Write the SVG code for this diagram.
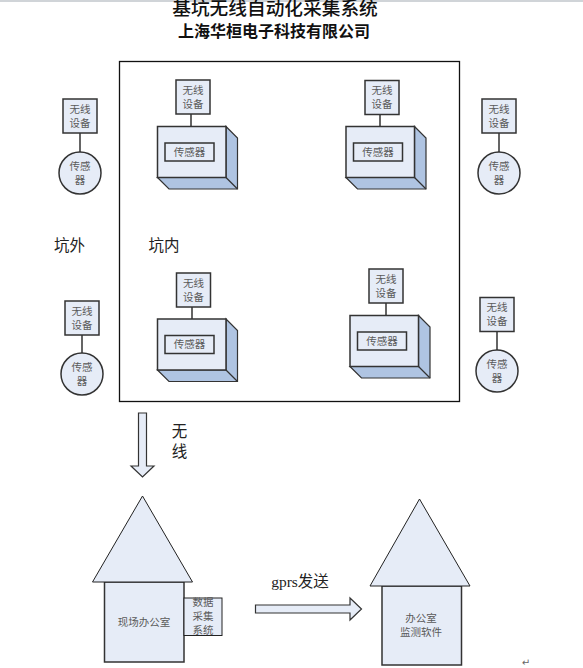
<svg xmlns="http://www.w3.org/2000/svg" width="583" height="668" viewBox="0 0 583 668">
<style>
text{font-family:"Noto Sans CJK SC","Liberation Sans",sans-serif;fill:#5a5a5a;text-anchor:middle;font-size:10.500px}
.big{fill:#222;font-size:15.500px}
.f{fill:#e6ecf7;stroke:#333;stroke-width:1.500}
.s{fill:#afc4e2;stroke:#333;stroke-width:1.200}
.th{fill:#e6ecf7;stroke:#222;stroke-width:1}
.l{stroke:#555;stroke-width:1.800;fill:none}
</style>
<defs>
<g id="radio"><rect class="f" x="0" y="0" width="34" height="34"/><text x="17" y="13.500">无线</text><text x="17" y="27.500">设备</text></g>
<g id="sensor"><circle class="f" cx="0" cy="0" r="21"/><text x="0" y="-3.500">传感</text><text x="0" y="10.500">器</text></g>
<g id="box"><path class="s" d="M68.500 0L80 11.500V62.500H11.500L0 51H68.500Z"/><path class="s" d="M68.500 51L80 62.500"/><rect class="f" x="0" y="0" width="68.500" height="51"/><rect class="f" x="7.500" y="16.500" width="49" height="18"/><text x="32" y="29">传感器</text></g>
</defs>
<rect x="0" y="0" width="583" height="2" fill="#d0d4d8"/>
<text x="275" y="15" style="font-size:18.700px;font-weight:500;fill:#111">基坑无线自动化采集系统</text>
<text x="274" y="37" style="font-size:16px;font-weight:700;fill:#111">上海华桓电子科技有限公司</text>
<g id="pit"><rect x="119.500" y="61.500" width="340" height="340" fill="#fff" stroke="#111" stroke-width="1.300"/></g>
<g id="connectors">
<path class="l" d="M80 133V152M191 114V126.500M380 114V127M499 133V152M82 335V353M192 307V319M386 303V316M497 331V350"/>
</g>
<g id="r1"><use href="#radio" x="63" y="99"/></g>
<g id="s1"><use href="#sensor" x="80" y="173"/></g>
<g id="r2"><use href="#radio" x="176" y="80"/></g>
<g id="b2"><use href="#box" x="157.500" y="126.500"/></g>
<g id="r3"><use href="#radio" x="365" y="80.500"/></g>
<g id="b3"><use href="#box" x="346" y="126.500"/></g>
<g id="r4"><use href="#radio" x="482" y="99"/></g>
<g id="s4"><use href="#sensor" x="499" y="173"/></g>
<g id="r5"><use href="#radio" x="65" y="301"/></g>
<g id="s5"><use href="#sensor" x="82" y="374"/></g>
<g id="r6"><use href="#radio" x="176.500" y="273"/></g>
<g id="b6"><use href="#box" x="157.500" y="319"/></g>
<g id="r7"><use href="#radio" x="369" y="269"/></g>
<g id="b7"><use href="#box" x="350" y="315.500"/></g>
<g id="r8"><use href="#radio" x="480" y="297.500"/></g>
<g id="s8"><use href="#sensor" x="497" y="371"/></g>
<text class="big" x="69.500" y="251">坑外</text>
<text class="big" x="164" y="251">坑内</text>
<g id="wireless-arrow"><path class="f" style="stroke-width:1.200" d="M138.500 413H146.500V466H154L142.500 477L131 466H138.500Z"/></g>
<text class="big" x="179.500" y="437">无</text>
<text class="big" x="179.500" y="457">线</text>
<g id="site-office">
<rect class="f" x="104.500" y="582" width="79.500" height="80"/>
<path class="th" d="M142.500 496L192.500 582H92.500Z"/>
<text x="144" y="625.500">现场办公室</text>
</g>
<g id="collector">
<rect class="th" x="184" y="598" width="38" height="37.500"/>
<text x="203" y="606">数据</text>
<text x="203" y="620">采集</text>
<text x="203" y="633.500">系统</text>
</g>
<g id="gprs-arrow"><path class="f" style="stroke-width:1.200" d="M255.500 605H350V598L361.500 609L350 620V613H255.500Z"/></g>
<text x="300" y="586.500" style="font-size:15.500px;fill:#222;font-family:'Liberation Serif','Noto Sans CJK SC',serif">gprs发送</text>
<g id="office">
<rect class="f" x="382" y="586" width="79.500" height="79"/>
<path class="th" d="M419.500 499L470 586H370Z"/>
<text x="421" y="622">办公室</text>
<text x="421" y="636">监测软件</text>
</g>
<text x="526" y="666" style="font-size:10px;fill:#666;font-family:'DejaVu Sans',sans-serif">↵</text>
</svg>
